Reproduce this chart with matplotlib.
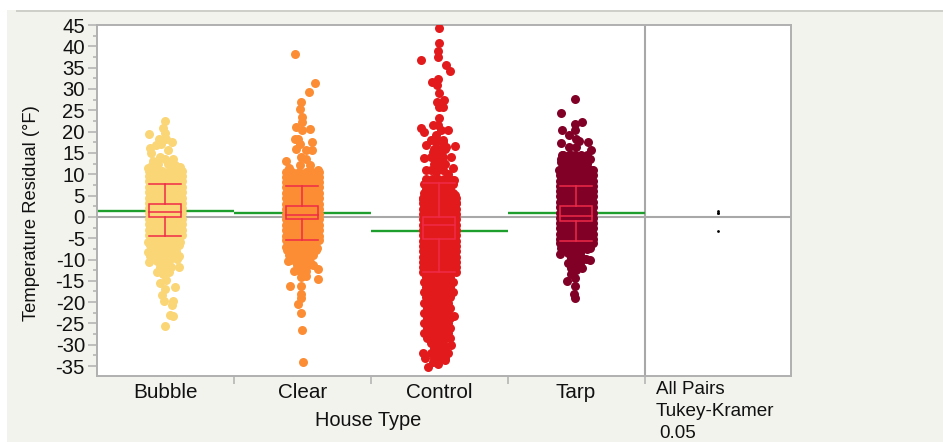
import matplotlib
matplotlib.use("Agg")
import matplotlib.pyplot as plt
from matplotlib.patches import Rectangle

plt.rcParams['font.family'] = ['Liberation Sans', 'DejaVu Sans']
plt.rcParams['axes.unicode_minus'] = False

categories = ["Bubble", "Clear", "Control", "Tarp"]
colors = ["#FBD676", "#FC8D35", "#E31A1C", "#800026"]

# Group means (green lines)
means = [1.4, 1.0, -3.2, 1.0]
# Box statistics: whisker low, q1, median, q3, whisker high
whisker_low = [-4.4, -5.4, -12.9, -5.7]
q1 = [0.0, -0.6, -5.1, -1.0]
median = [1.1, 0.5, -1.95, 0.2]
q3 = [3.1, 2.5, 0.0, 2.5]
whisker_high = [7.6, 7.2, 8.0, 7.2]

# Dense part of every cloud, read as rows of points (row value, jitter pattern)
wide_a = [-16.5, -9.9, -3.3, 3.3, 9.9, 16.5]
wide_b = [-16.5, -13.2, -6.6, 0, 6.6, 13.2, 16.5]
mid_a = [-13, -7, -1, 5, 11]
mid_b = [-15, -10, -4, 2, 8, 14]
left_a = [-15, -9, -3, 3, 9]
left_b = [-12, -6, 0, 6, 11]
narrow_a = [-8, -2, 4]
narrow_b = [-5, 1, 6]

bubble_wide = [10.8, 9.5, 8.3, 7.0, 5.8, 4.5, 3.3, 2.0, 0.8, -0.5, -1.7, -3.0, -4.2]
bubble_mid = [-5.4, -6.7, -7.9, -9.2]
bubble_narrow = [-10.4, -11.7, -12.9]
clear_wide = [10.6, 9.4, 8.1, 6.9, 5.6, 4.4, 3.1, 1.9, 0.6, -0.6, -1.9, -3.1, -4.4, -5.5]
clear_mid = [-6.6, -7.8, -9.0]
clear_narrow = [-10.2, -11.4, -12.6]
control_wide = [4.4, 3.2, 1.9, 0.7, -0.6, -1.8, -3.1, -4.3, -5.6, -6.8, -8.1, -9.3, -10.6, -11.8, -12.9]
control_mid = [9.0, 7.8, 6.6, 5.5, -14.0, -15.2, -16.5, -17.7, -18.9]
control_left = [-20.1, -21.3, -22.5, -23.7, -24.9, -26.1, -27.3, -28.4]
control_narrow = [-29.5, -30.7, -31.9, -33.0, 14.0, 12.5, 11.0, 16.0, 18.0]
tarp_wide = [11.0, 9.8, 8.5, 7.3, 6.0, 4.8, 3.5, 2.3, 1.0, -0.2, -1.5, -2.7, -4.0, -5.2, -6.2]
tarp_mid = [14.6, 13.5, 12.3, -7.2]
tarp_narrow = [-8.4, -9.6, -10.8, -12.0]

# Individually read points, jitter in pixels from the group centre
bubble_pts_y = [22.5, 19.5, 20.9, 19.6, 18.3, 16.9, 17.6, 16.2, 15.0, 15.6, 17.2, 18.3, 13.5, 13.1, 11.8, 11.5,
                14.0, 13.6, 12.5, 12.5, 12.1, 12.1,
                -5.9, -6.0, -8.2, -10.5, -9.9, -11.7, -13.3, -15.6, -16.4, -14.8, -16.8, -18.4, -19.8, -19.8,
                -20.7, -22.9, -23.3, -25.5]
bubble_pts_j = [0, -16, -2, 0, -6, -9, 7, -15, -14, 3, -4, 1, 8, -12, 15, -17,
                -5, 0, -7, 3, 10, -13,
                -17, 15, -17, -16, 12, 14, -2, -5, 10, 1, 0, -3, -1, 8,
                7, 5, 8, 0]
clear_pts_y = [38.2, 31.3, 29.2, 26.9, 25.3, 23.4, 22.2, 21.1, 20.7, 20.3, 18.3, 18.3, 17.6, 17.2, 16.0, 15.8, 15.6,
               14.0, 13.0, 13.6, 11.5, 12.1, 12.1, 10.9,
               -7.0, -7.4, -10.3, -10.0, -10.5, -12.3, -11.3, -12.1, -13.9, -14.0, -14.5, -16.2, -16.2, -18.0,
               -19.1, -20.5, -22.5, -26.5, -34.0]
clear_pts_j = [-7, 13, 7, -1, -2, 0, 0, -6, 8, 0, -4, -7, 10, -2, -6, 10, 4,
               -1, -16, 4, -13, -2, 8, 16,
               -16, 15, -14, -12, 8, 16, 11, -2, 4, -1, 16, -12, -1, -1,
               -1, -4, -1, 0, 1]
control_pts_y = [44.3, 40.8, 38.9, 37.5, 36.8, 35.7, 34.2, 32.4, 31.6, 31.0, 29.1, 27.5, 26.9, 25.7, 25.7, 23.3,
                 21.5, 20.8, 20.0, 20.3, 21.5, 20.3, 19.1, 16.8, 16.6, 17.5, 17.5, 16.4, 13.8, 14.0, 15.2, 15.2,
                 12.6, 12.8, 11.5, 10.9, 10.1, 10.5, 8.7, 8.0, 5.2, 4.3, 3.3,
                 -23.3, -30.0, -31.9, -32.0, -33.2, -33.6, -34.4, -35.1, -34.0, -33.0, -30.5, -30.2]
control_pts_j = [0, 0, -1, -1, -18, 7, 11, -1, -7, -2, 0, 5, -2, 4, 0, 0,
                 -6, -18, -15, 9, -1, 2, -3, -13, 16, 4, -3, 7, -15, 12, -6, 2,
                 -4, 4, 14, -13, 9, -3, 15, -13, 16, -16, 17,
                 15, 12, -16, 9, -14, 6, -1, -11, -6, 2, -4, 4]
tarp_pts_y = [27.6, 24.3, 22.2, 21.8, 20.4, 20.3, 19.1, 18.3, 17.9, 17.3, 17.5, 16.5, 15.8, 16.3, 14.4, 14.0, 12.9,
              14.0, 14.4, 11.1, 10.9,
              -8.7, -7.6, -9.8, -10.2, -7.4, -8.8, -9.4, -11.5, -13.3, -12.5, -15.0, -14.4, -16.2, -18.0, -19.0]
tarp_pts_j = [-1, -15, 6, -1, -14, -1, -7, 0, 3, -15, 12, -7, 15, 0, -14, 11, -15,
              3, -5, 15, -17,
              -16, 11, 10, 14, -12, -5, 0, 3, -5, 0, -9, -1, -1, -2, -1]

# Comparison circles panel
circle_x = 4.034
circle_values = [1.4, 1.0, 1.0, -3.2]

PX = 1 / 137.0


def rows(values, pat_a, pat_b):
    ys, js = [], []
    for k, v in enumerate(values):
        pat = pat_a if k % 2 == 0 else pat_b
        ys += [v] * len(pat)
        js += pat
    return ys, js


clouds = [
    [(bubble_wide, wide_a, wide_b), (bubble_mid, mid_a, mid_b), (bubble_narrow, narrow_a, narrow_b)],
    [(clear_wide, wide_a, wide_b), (clear_mid, mid_a, mid_b), (clear_narrow, narrow_a, narrow_b)],
    [(control_wide, wide_a, wide_b), (control_mid, mid_a, mid_b), (control_left, left_a, left_b),
     (control_narrow, narrow_a, narrow_b)],
    [(tarp_wide, wide_a, wide_b), (tarp_mid, mid_a, mid_b), (tarp_narrow, narrow_a, narrow_b)],
]
single_pts = [(bubble_pts_y, bubble_pts_j), (clear_pts_y, clear_pts_j),
              (control_pts_y, control_pts_j), (tarp_pts_y, tarp_pts_j)]

W, H = 943, 443
fig = plt.figure(figsize=(W / 100, H / 100), dpi=100, facecolor="white")
BG = "#F3F3EE"
fig.patches.append(Rectangle((7 / W, 1 - 442 / H), (W - 7) / W, (442 - 10) / H, transform=fig.transFigure,
                             facecolor=BG, edgecolor="none", zorder=-5))
fig.patches.append(Rectangle((16 / W, 1 - 12 / H), (W - 16) / W, 2 / H, transform=fig.transFigure,
                             facecolor="#CFCFC9", edgecolor="none", zorder=-4))

ax = fig.add_axes([97 / W, 1 - 375.5 / H, (791 - 97) / W, (375.5 - 25) / H])
ax.set_facecolor("white")
ax.set_xlim(-0.5, 4.57)
ax.set_ylim(-37.2, 45)

GRAY = "#B0B0B0"
for s in ax.spines.values():
    s.set_color(GRAY)
    s.set_linewidth(1.4)

ax.axhline(0, color="#A8A8A8", lw=1.5, zorder=1)
ax.axvline(3.5, color="#A8A8A8", lw=1.5, zorder=1)

for i, cat in enumerate(categories):
    ax.plot([i - 0.5, i + 0.5], [means[i], means[i]], color="#1E9E2C", lw=1.7, zorder=2,
            solid_capstyle="butt")
    ys, js = [], []
    for vals, a, b in clouds[i]:
        y_part, j_part = rows(vals, a, b)
        ys += y_part
        js += j_part
    ys += single_pts[i][0]
    js += single_pts[i][1]
    xs = [i + j * PX for j in js]
    ax.scatter(xs, ys, s=42, color=colors[i], linewidths=0, zorder=3, clip_on=True)

    hw = 16 * PX
    box_c = "#EE2A48"
    ax.add_patch(Rectangle((i - hw, q1[i]), 2 * hw, q3[i] - q1[i], fill=False, edgecolor=box_c, lw=1.1, zorder=4))
    ax.plot([i - hw, i + hw], [median[i], median[i]], color=box_c, lw=1.1, zorder=4)
    ax.plot([i, i], [q3[i], whisker_high[i]], color=box_c, lw=1.1, zorder=4)
    ax.plot([i, i], [whisker_low[i], q1[i]], color=box_c, lw=1.1, zorder=4)
    ax.plot([i - hw, i + hw], [whisker_high[i]] * 2, color=box_c, lw=1.1, zorder=4)
    ax.plot([i - hw, i + hw], [whisker_low[i]] * 2, color=box_c, lw=1.1, zorder=4)

ax.scatter([circle_x] * len(circle_values), circle_values, s=4, color="black", linewidths=0, zorder=5)

# Axes furniture
ax.set_yticks(list(range(-35, 50, 5)))
ax.set_yticks([v + 2.5 for v in range(-35, 45, 5)], minor=True)
ax.set_ylim(-37.2, 45)
ax.tick_params(axis="y", which="major", length=6.2, width=1.1, color=GRAY, labelsize=14.6, pad=2.5,
               labelcolor="#111111")
ax.tick_params(axis="y", which="minor", length=3.2, width=1.1, color=GRAY)
ax.set_xticks([0.5, 1.5, 2.5, 3.5])
ax.set_xticklabels([])
ax.set_xticks([0, 1, 2, 3], minor=True)
ax.set_xticklabels(categories, minor=True)
ax.tick_params(axis="x", which="major", length=5.5, width=1.1, color=GRAY)
ax.tick_params(axis="x", which="minor", length=0, labelsize=14.9, pad=5.5, labelcolor="#111111")

fig.text(32 / W, 1 - 213 / H, "Temperature Residual (°F)", rotation=90, ha="center", va="center",
         fontsize=13.2, color="#111111")
fig.text(368.5 / W, 1 - 421 / H, "House Type", ha="center", va="center", fontsize=14.4, color="#111111")
fig.text(655.5 / W, 1 - 389 / H, "All Pairs", ha="left", va="center", fontsize=13.5, color="#111111")
fig.text(655.5 / W, 1 - 412 / H, "Tukey-Kramer", ha="left", va="center", fontsize=13.6, color="#111111")
fig.text(659.5 / W, 1 - 434 / H, "0.05", ha="left", va="center", fontsize=13.5, color="#111111")

fig.savefig("out.png", dpi=100, facecolor="white")
